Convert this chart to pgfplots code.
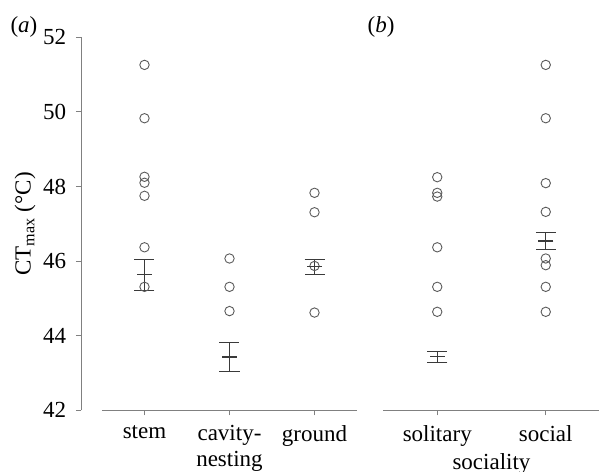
\documentclass[border=0pt]{standalone}
\usepackage{pgfplots}
\pgfplotsset{compat=1.18}
\usepackage{fontspec}
\setmainfont{Liberation Serif}
\definecolor{axgray}{HTML}{808080}
\definecolor{ptgray}{HTML}{5A5A5A}
\definecolor{ebgray}{HTML}{3A3A3A}
\begin{document}
\fontsize{23bp}{26bp}\selectfont
\begin{tikzpicture}
\pgfplotsset{
  common/.style={
    scale only axis, height=373bp,
    ymin=42, ymax=52, clip=false,
    axis lines*=left,
    axis line style={draw=none},
    tick align=outside,
    major tick length=5bp,
    tick style={axgray, line width=0.8bp},
    ticklabel style={font=\fontsize{23bp}{26bp}\selectfont},
    /pgf/number format/assume math mode=true,
    xtick=data,
  },
  pts/.style={only marks, mark=o, mark size=4.7bp, ptgray, line width=0.9bp, mark options={solid}},
  eb/.style={only marks, mark=-, mark size=7.5bp, ebgray, line width=1.1bp,
    error bars/.cd, y dir=both, y explicit,
    error bar style={ebgray, line width=1.1bp},
    error mark options={ebgray, line width=1.1bp, mark size=10bp, rotate=90}},
}
\begin{axis}[common, name=A,
  width=276bp,
  xmin=-0.747, xmax=2.5,
  ytick={42,44,46,48,50,52},
  yticklabel style={xshift=-2bp},
  xticklabels={stem,{cavity-\\nesting},ground},
  xticklabel style={align=center, yshift=-2bp},
  ylabel={CT\textsubscript{max} (°C)},
  ylabel style={font=\fontsize{23bp}{26bp}\selectfont, yshift=-8bp},
]
\draw[axgray, line width=0.9bp] (axis cs:-0.747,42) -- (axis cs:-0.747,52);
\draw[axgray, line width=0.9bp] (axis cs:-0.5,42) -- (axis cs:2.5,42);
\addplot[pts] coordinates {
 (0,51.26) (0,49.83) (0,48.26) (0,48.10) (0,47.75) (0,46.37) (0,45.31)
 (1,46.07) (1,45.31) (1,44.66)
 (2,47.83) (2,47.31) (2,45.87) (2,44.62)
};
\addplot[eb] coordinates {
 (0,45.63) += (0,0.42) -= (0,0.43)
 (1,43.43) += (0,0.38) -= (0,0.39)
 (2,45.85) += (0,0.20) -= (0,0.20)
};
\end{axis}
\begin{axis}[common, name=B,
  at={(302bp,0)}, anchor=south west,
  width=217bp,
  xmin=-0.5, xmax=1.5,
  ytick=\empty,
  xticklabels={solitary,social},
  xticklabel style={yshift=-2bp},
  xlabel={sociality},
  xlabel style={font=\fontsize{23bp}{26bp}\selectfont, yshift=8bp},
]
\draw[axgray, line width=0.9bp] (axis cs:-0.5,42) -- (axis cs:1.5,42);
\addplot[pts] coordinates {
 (0,48.25) (0,47.83) (0,47.73) (0,46.37) (0,45.31) (0,44.64)
 (1,51.26) (1,49.83) (1,48.09) (1,47.32) (1,46.07) (1,45.89) (1,45.31) (1,44.64)
};
\addplot[eb] coordinates {
 (0,43.44) += (0,0.13) -= (0,0.16)
 (1,46.54) += (0,0.22) -= (0,0.24)
};
\end{axis}
\node[anchor=center] at (-57bp,383bp) {(\textit{a})};
\node[anchor=center] at (300bp,383bp) {(\textit{b})};
\pgfresetboundingbox
\path (-81bp,-61.7bp) rectangle (518bp,410.3bp);
\end{tikzpicture}
\end{document}
